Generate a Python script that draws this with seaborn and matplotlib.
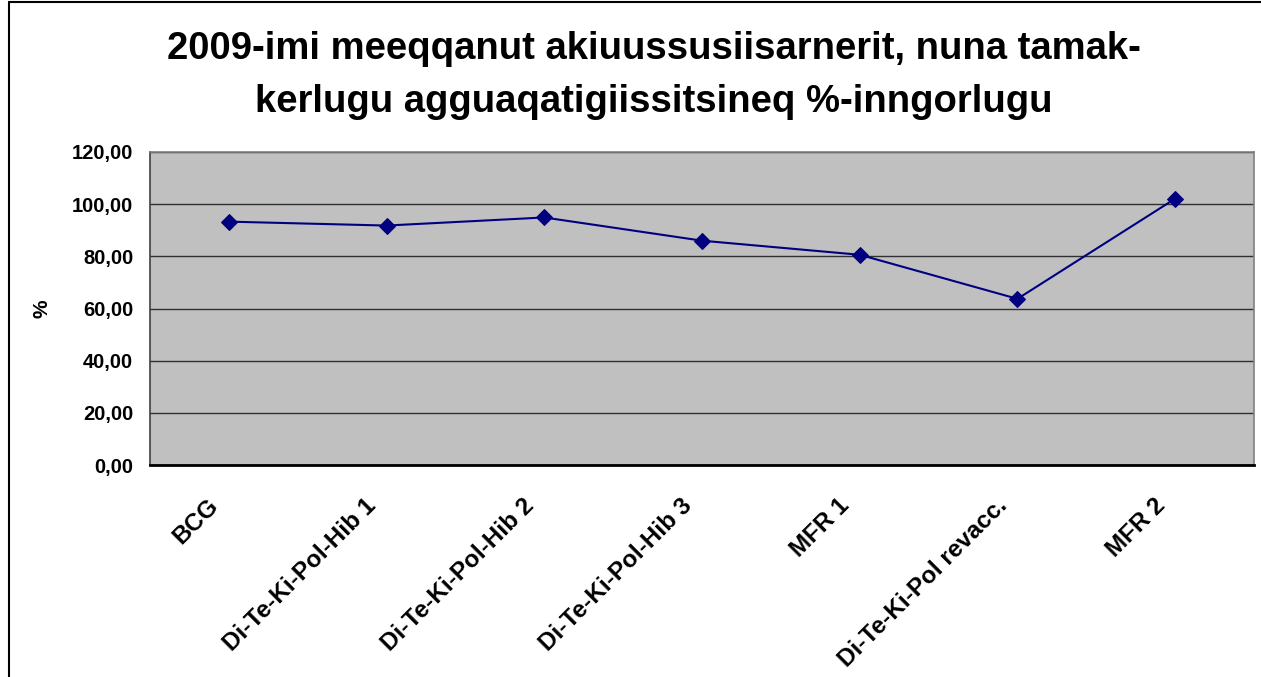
import numpy as np
import pandas as pd
import matplotlib
matplotlib.use("Agg")
import matplotlib.pyplot as plt
import matplotlib.transforms as mtransforms
import seaborn as sns
from matplotlib.lines import Line2D

# Data
categories = ["BCG", "Di-Te-Ki-Pol-Hib 1", "Di-Te-Ki-Pol-Hib 2", "Di-Te-Ki-Pol-Hib 3",
              "MFR 1", "Di-Te-Ki-Pol revacc.", "MFR 2"]
coverage = [93.3, 91.8, 94.9, 86.0, 80.6, 63.7, 102.1]
title_lines = ["2009-imi meeqqanut akiuussusiisarnerit, nuna tamak-",
               "kerlugu agguaqatigiissitsineq %-inngorlugu"]
y_ticks = [0, 20, 40, 60, 80, 100, 120]

df = pd.DataFrame({"pos": np.arange(len(categories)), "cat": categories, "val": coverage})

sns.set_style("white")
plt.rcParams['font.family'] = ['Liberation Sans', 'DejaVu Sans']
plt.rcParams['text.color'] = 'black'
plt.rcParams['axes.labelcolor'] = 'black'
plt.rcParams['xtick.color'] = 'black'
plt.rcParams['ytick.color'] = 'black'

fig = plt.figure(figsize=(12.61, 6.77), dpi=100)
ax = fig.add_axes([150 / 1261, (677 - 465) / 677, (1254 - 150) / 1261, (465 - 152) / 677])
ax.set_facecolor('#C0C0C0')

sns.lineplot(data=df, x="pos", y="val", ax=ax, color='#000080', lw=1.5,
             marker='D', markersize=8, markeredgecolor='#000080', sort=False)

ax.set_xlim(-0.5, len(categories) - 0.5)
ax.set_ylim(0, 120)
ax.set_yticks(y_ticks)
ax.set_yticklabels([f"{v:.2f}".replace('.', ',') for v in y_ticks],
                   fontsize=14.5, fontweight='bold')
ax.yaxis.grid(True, color='#303030', lw=1)
ax.set_axisbelow(True)

# category boundary ticks, labels at centres
ax.set_xticks(np.arange(-0.5, len(categories), 1))
ax.set_xticklabels([])
ax.set_xticks(df["pos"], minor=True)
ax.set_xticklabels(categories, minor=True, rotation=45, ha='right',
                   rotation_mode='anchor', fontsize=17.5, fontweight='bold')
ax.tick_params(axis='x', which='minor', length=0, pad=21)
ax.tick_params(axis='x', which='major', length=7, width=1, color='black', direction='out')
ax.tick_params(axis='y', length=5, width=1, color='black', direction='out', pad=7)

# nudge the rotated category labels to the left, as in the reference
shift = mtransforms.ScaledTranslation(-22 / 100, 0, fig.dpi_scale_trans)
for lbl in ax.get_xticklabels(minor=True):
    lbl.set_transform(lbl.get_transform() + shift)

ax.set_xlabel("")
ax.set_ylabel("%", fontsize=15, fontweight='bold', labelpad=15)

for side in ['top', 'right']:
    ax.spines[side].set_color('#808080')
    ax.spines[side].set_linewidth(1.2)
ax.spines['left'].set_color('#404040')
ax.spines['left'].set_linewidth(1.2)
ax.spines['bottom'].set_color('black')
ax.spines['bottom'].set_linewidth(2)

fig.text(0.5186, 0.927, title_lines[0], ha='center', va='center', fontsize=27.5, fontweight='bold')
fig.text(0.5186, 0.850, title_lines[1], ha='center', va='center', fontsize=27.5, fontweight='bold')

# outer chart frame
fig.add_artist(Line2D([9 / 1261, 9 / 1261], [0, 1 - 2 / 677], color='black', lw=1.5,
                      transform=fig.transFigure))
fig.add_artist(Line2D([9 / 1261, 1], [1 - 2 / 677, 1 - 2 / 677], color='black', lw=1.5,
                      transform=fig.transFigure))

fig.savefig("out.png", dpi=100)
